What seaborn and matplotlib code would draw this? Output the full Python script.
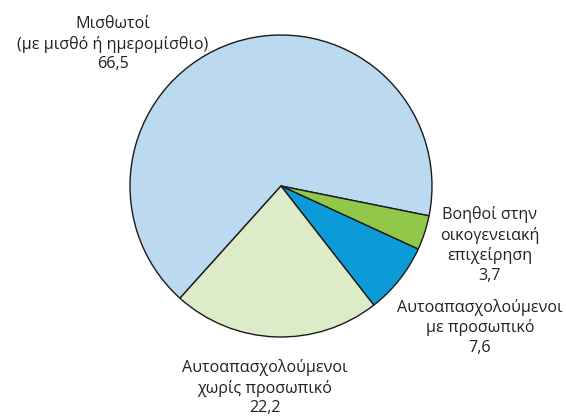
import matplotlib
matplotlib.use("Agg")
import matplotlib.pyplot as plt
import seaborn as sns

# Employment status shares (%)
categories = [
    "Μισθωτοί\n(με μισθό ή ημερομίσθιο)",
    "Βοηθοί στην\nοικογενειακή\nεπιχείρηση",
    "Αυτοαπασχολούμενοι\nμε προσωπικό",
    "Αυτοαπασχολούμενοι\nχωρίς προσωπικό",
]
values = [66.5, 3.7, 7.6, 22.2]
value_labels = ["66,5", "3,7", "7,6", "22,2"]
colors = ["#BBDAF0", "#92C84A", "#0A9BD8", "#DCEBC8"]

sns.set_theme(style="white")
plt.rcParams["font.family"] = ["Open Sans", "DejaVu Sans"]

W, H = 566, 416
fig = plt.figure(figsize=(W / 100, H / 100), dpi=100)
# pie centred at (281, 186) px with radius 151 px
cx, cy, r = 281, 186, 151
ax = fig.add_axes([(cx - r) / W, 1 - (cy + r) / H, 2 * r / W, 2 * r / H])
ax.pie(values, colors=colors, startangle=228, counterclock=False, radius=1,
       wedgeprops=dict(edgecolor="#1a1a1a", linewidth=1.0))
ax.set_xlim(-1.0, 1.0)
ax.set_ylim(-1.0, 1.0)
ax.set_aspect("equal")
ax.axis("off")

# label anchor points in pixels (centre of text block)
label_pos = [(113, 44), (490, 245), (480, 327), (265, 388)]
for cat, val, (px, py) in zip(categories, value_labels, label_pos):
    fig.text(px / W, 1 - py / H, f"{cat}\n{val}", ha="center", va="center",
             fontsize=11.6, color="#222222", linespacing=1.28)

fig.savefig("out.png", dpi=100)
